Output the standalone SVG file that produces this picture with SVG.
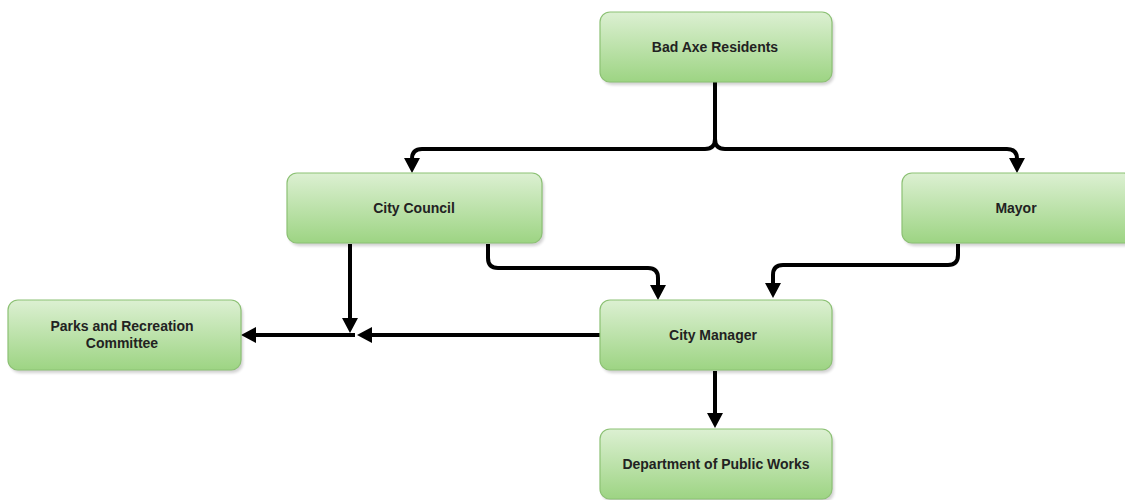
<svg xmlns="http://www.w3.org/2000/svg" width="1125" height="500" viewBox="0 0 1125 500">
  <style>
    .box { fill: url(#g); stroke: #8cc174; stroke-width: 1.2; }
    .sh { fill: #000; opacity: 0.18; }
    .lbl { font-family: "Liberation Sans", Arial, sans-serif; font-size: 14px; font-weight: bold; fill: #222; text-anchor: middle; dominant-baseline: central; }
    .con { fill: none; stroke: #000; stroke-width: 4; marker-end: url(#arr); }
  </style>
  <defs>
    <linearGradient id="g" x1="0" y1="0" x2="0" y2="1">
      <stop offset="0" stop-color="#dcf0d2"/>
      <stop offset="1" stop-color="#9dd483"/>
    </linearGradient>
    <filter id="blur" x="-10%" y="-10%" width="120%" height="130%">
      <feGaussianBlur stdDeviation="1.5"/>
    </filter>
    <marker id="arr" viewBox="0 0 15 16" refX="7" refY="8" markerWidth="15" markerHeight="16" markerUnits="userSpaceOnUse" orient="auto">
      <path d="M0,0 L15,8 L0,16 z" fill="#000"/>
    </marker>
  </defs>
  <rect width="1125" height="500" fill="#fff"/>

  <g id="connectors">
    <path class="con" d="M715,82 V139 Q715,149 705,149 H422 Q412,149 412,159 V165"/>
    <path class="con" d="M715,82 V139 Q715,149 725,149 H1007 Q1017,149 1017,159 V165"/>
    <path class="con" d="M350,244 V325"/>
    <path class="con" d="M488,244 V258 Q488,268 498,268 H648 Q658,268 658,278 V292"/>
    <path class="con" d="M958,244 V255 Q958,265 948,265 H783 Q773,265 773,275 V290"/>
    <path class="con" d="M600,335 H365"/>
    <path class="con" d="M355,335 H249"/>
    <path class="con" d="M715,371 V420"/>
  </g>

  <g id="n-residents">
    <rect class="sh" x="602" y="15" width="232" height="70" rx="10" filter="url(#blur)"/>
    <rect class="box" x="600" y="12" width="232" height="70" rx="10"/>
    <text class="lbl" x="715" y="47">Bad Axe Residents</text>
  </g>
  <g id="n-council">
    <rect class="sh" x="289" y="176" width="255" height="70" rx="10" filter="url(#blur)"/>
    <rect class="box" x="287" y="173" width="255" height="70" rx="10"/>
    <text class="lbl" x="414" y="208">City Council</text>
  </g>
  <g id="n-mayor">
    <rect class="sh" x="904" y="176" width="232" height="70" rx="10" filter="url(#blur)"/>
    <rect class="box" x="902" y="173" width="232" height="70" rx="10"/>
    <text class="lbl" x="1016" y="208">Mayor</text>
  </g>
  <g id="n-parks">
    <rect class="sh" x="10" y="303" width="233" height="70" rx="10" filter="url(#blur)"/>
    <rect class="box" x="8" y="300" width="233" height="70" rx="10"/>
    <text class="lbl" x="122" y="326">Parks and Recreation</text>
    <text class="lbl" x="122" y="343">Committee</text>
  </g>
  <g id="n-manager">
    <rect class="sh" x="602" y="303" width="232" height="70" rx="10" filter="url(#blur)"/>
    <rect class="box" x="600" y="300" width="232" height="70" rx="10"/>
    <text class="lbl" x="713" y="335">City Manager</text>
  </g>
  <g id="n-dpw">
    <rect class="sh" x="602" y="432" width="232" height="70" rx="10" filter="url(#blur)"/>
    <rect class="box" x="600" y="429" width="232" height="70" rx="10"/>
    <text class="lbl" x="716" y="464">Department of Public Works</text>
  </g>
</svg>
